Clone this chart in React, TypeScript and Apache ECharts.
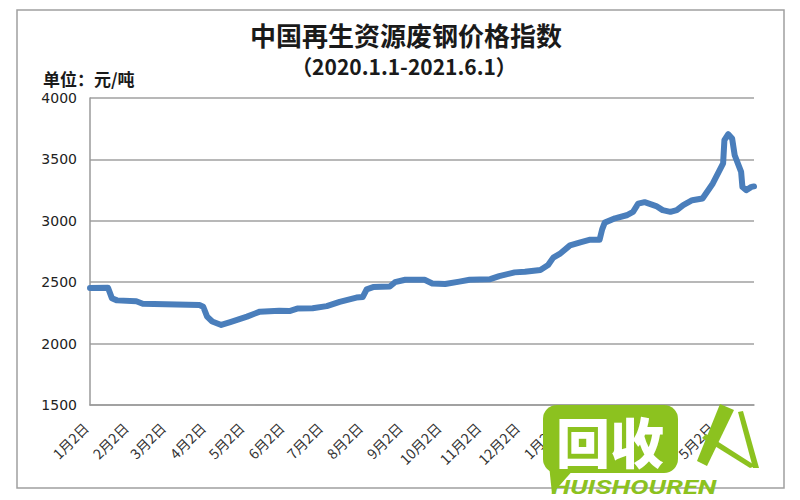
import React, { useEffect, useRef } from "react";
import * as echarts from "echarts";

// ---- data ----
const titleText = "中国再生资源废钢价格指数";
const subtitleText = "（2020.1.1-2021.6.1）";
const unitText = "单位：元/吨";

const yMin = 1500;
const yMax = 4000;
const yStep = 500;

const firstDay = "2020-01-02";
const lastDay = "2021-06-01";

const priceDates = [
  "2020-01-02", "2020-01-16", "2020-01-19", "2020-01-23", "2020-02-07", "2020-02-12",
  "2020-03-27", "2020-03-30", "2020-04-02", "2020-04-06", "2020-04-13", "2020-04-20",
  "2020-05-03", "2020-05-13", "2020-05-28", "2020-06-05", "2020-06-11", "2020-06-23",
  "2020-07-04", "2020-07-14", "2020-07-27", "2020-08-01", "2020-08-04", "2020-08-09",
  "2020-08-22", "2020-08-26", "2020-09-03", "2020-09-18", "2020-09-24", "2020-10-04",
  "2020-10-15", "2020-10-23", "2020-11-08", "2020-11-15", "2020-11-27", "2020-12-05",
  "2020-12-17", "2020-12-23", "2020-12-27", "2021-01-01", "2021-01-09", "2021-01-17",
  "2021-01-24", "2021-02-01", "2021-02-03", "2021-02-05", "2021-02-13", "2021-02-22",
  "2021-02-27", "2021-03-03", "2021-03-08", "2021-03-17", "2021-03-22", "2021-03-28",
  "2021-04-02", "2021-04-07", "2021-04-14", "2021-04-22", "2021-04-30", "2021-05-08",
  "2021-05-09", "2021-05-12", "2021-05-15", "2021-05-17", "2021-05-22", "2021-05-23",
  "2021-05-26", "2021-05-30", "2021-06-01",
];

const priceValues = [
  2453, 2455, 2370, 2352, 2345, 2325,
  2315, 2300, 2220, 2180, 2152, 2175,
  2220, 2260, 2268, 2265, 2285, 2288,
  2305, 2340, 2375, 2380, 2442, 2460,
  2465, 2500, 2520, 2520, 2490, 2485,
  2505, 2520, 2525, 2550, 2580, 2585,
  2600, 2640, 2700, 2730, 2800, 2825,
  2845, 2845, 2930, 2985, 3020, 3045,
  3073, 3140, 3152, 3120, 3087, 3073,
  3087, 3128, 3168, 3182, 3304, 3467,
  3656, 3705, 3670, 3534, 3398, 3276,
  3250, 3276, 3280,
];

function buildDays(from: string, to: string): string[] {
  const out: string[] = [];
  const d = new Date(from + "T00:00:00Z");
  const end = new Date(to + "T00:00:00Z");
  while (d.getTime() <= end.getTime()) {
    out.push(d.toISOString().slice(0, 10));
    d.setUTCDate(d.getUTCDate() + 1);
  }
  return out;
}

const dayCategories = buildDays(firstDay, lastDay);

export default function App() {
  const ref = useRef<HTMLDivElement>(null);

  useEffect(() => {
    if (!ref.current) return;
    document.body.style.margin = "0";
    const chart = echarts.init(ref.current, null, { renderer: "svg" });

    const seriesData: (number | null)[] = dayCategories.map(() => null);
    priceDates.forEach((d, i) => {
      const idx = dayCategories.indexOf(d);
      if (idx >= 0) seriesData[idx] = priceValues[i];
    });

    const green = "#8cc21f";
    const cjk = "'Noto Sans CJK SC', sans-serif";

    chart.setOption({
      animation: false,
      backgroundColor: "#ffffff",
      grid: { left: 90, right: 46, top: 98, bottom: 95, containLabel: false },
      xAxis: {
        type: "category",
        data: dayCategories,
        boundaryGap: false,
        axisLine: { show: true, lineStyle: { color: "#9a9a9a", width: 1.5 } },
        axisTick: { show: false },
        splitLine: { show: false },
        axisLabel: {
          interval: (_i: number, v: string) => v.endsWith("-02"),
          formatter: (v: string) => `${parseInt(v.slice(5, 7), 10)}月2日`,
          rotate: 45,
          margin: 16,
          padding: [0, 6, 0, 0],
          fontSize: 14,
          color: "#333333",
          fontFamily: cjk,
        },
      },
      yAxis: {
        type: "value",
        min: yMin,
        max: yMax,
        interval: yStep,
        axisLine: { show: true, lineStyle: { color: "#9a9a9a", width: 1.5 } },
        axisTick: { show: false },
        splitLine: { show: true, lineStyle: { color: "#a0a0a0", width: 1.5 } },
        axisLabel: {
          margin: 13,
          fontSize: 14,
          color: "#222222",
          fontFamily: "'DejaVu Sans', sans-serif",
          formatter: (v: number) => String(v),
        },
      },
      series: [
        {
          type: "line",
          data: seriesData,
          connectNulls: true,
          showSymbol: false,
          symbol: "none",
          lineStyle: { color: "#4a7ebb", width: 6, cap: "round", join: "round" },
          z: 3,
        },
      ],
      graphic: [
        {
          type: "rect",
          shape: { x: 17, y: 10, width: 767, height: 478 },
          style: { fill: "none", stroke: "#a0a0a0", lineWidth: 1.5 },
          silent: true,
          z: -1,
        },
        {
          type: "text",
          x: 406,
          y: 34,
          style: {
            text: titleText,
            textAlign: "center",
            textVerticalAlign: "middle",
            font: `bold 26px ${cjk}`,
            fill: "#1a1a1a",
          },
        },
        {
          type: "text",
          x: 404,
          y: 66,
          style: {
            text: subtitleText,
            textAlign: "center",
            textVerticalAlign: "middle",
            font: `bold 21px ${cjk}`,
            fill: "#1a1a1a",
          },
        },
        {
          type: "text",
          x: 43,
          y: 78,
          style: {
            text: unitText,
            textAlign: "left",
            textVerticalAlign: "middle",
            font: `bold 17px ${cjk}`,
            fill: "#1a1a1a",
          },
        },
        // watermark logo
        {
          type: "polygon",
          z: 100,
          shape: { points: [[548, 455], [575, 468], [552, 494]] },
          style: { fill: green },
        },
        {
          type: "rect",
          z: 100,
          shape: { x: 543, y: 405, width: 135, height: 68, r: 14 },
          style: { fill: green },
        },
        {
          type: "text",
          z: 101,
          x: 610,
          y: 440,
          style: {
            text: "回收",
            textAlign: "center",
            textVerticalAlign: "middle",
            font: `900 54px ${cjk}`,
            fill: "#ffffff",
          },
        },
        {
          type: "polygon",
          z: 100,
          shape: { points: [[720, 404], [734, 410], [707, 466], [697, 461]] },
          style: { fill: green },
        },
        {
          type: "polygon",
          z: 100,
          shape: { points: [[738, 412], [743, 411], [759, 468], [753, 468]] },
          style: { fill: green },
        },
        {
          type: "polygon",
          z: 100,
          shape: { points: [[702, 438], [706, 434], [756, 466], [750, 468]] },
          style: { fill: green },
        },
        {
          type: "text",
          z: 100,
          x: 634,
          y: 487,
          scaleX: 1.3,
          style: {
            text: "HUISHOUREN",
            textAlign: "center",
            textVerticalAlign: "middle",
            font: `italic bold 21px Roboto, sans-serif`,
            fill: green,
          },
        },
      ],
    });

    return () => chart.dispose();
  }, []);

  return (
    <div
      ref={ref}
      style={{ position: "fixed", left: 0, top: 0, width: 800, height: 500 }}
    />
  );
}
